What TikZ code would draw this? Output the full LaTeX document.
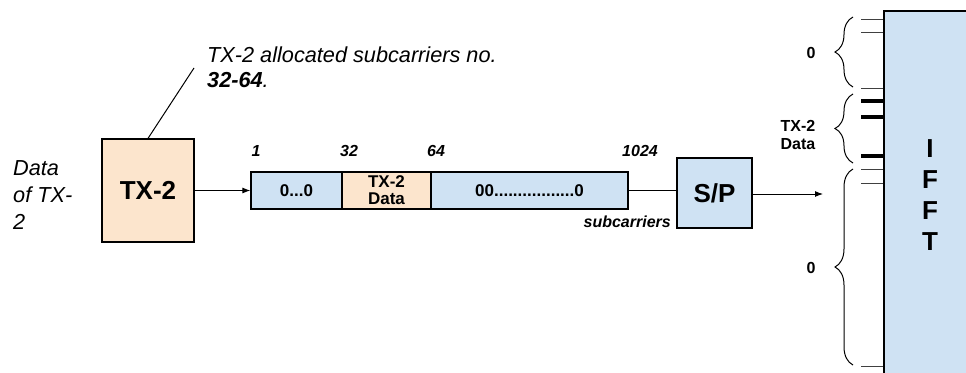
\documentclass[tikz,border=0pt]{standalone}
\usepackage{fontspec}
\setmainfont{Liberation Sans}
\usepackage{xcolor}
\usetikzlibrary{arrows.meta,decorations.pathreplacing}
\definecolor{peach}{HTML}{FCE5CD}
\definecolor{pale}{HTML}{CFE2F3}

\begin{document}
\begin{tikzpicture}[
  x=1pt, y=-1pt,
  >={Latex[length=8pt,width=6pt]},
  blk/.style={draw, line width=1.2pt, inner sep=0pt, align=center,
    font=\fontsize{26}{31}\selectfont\bfseries},
  cell/.style={draw, line width=1.2pt, fill=pale, minimum height=37, inner sep=0pt,
    align=center, font=\fontsize{17}{17}\selectfont\bfseries},
  idx/.style={inner sep=0pt, font=\fontsize{16}{16}\selectfont\bfseries\itshape},
  note/.style={inner sep=0pt, align=left, font=\fontsize{21.7}{25}\selectfont\itshape},
  lbl/.style={inner sep=0pt, align=center, font=\fontsize{16}{18}\selectfont\bfseries},
  arr/.style={->, line width=1pt},
  stub/.style={line width=1pt, black!75},
  fat/.style={line width=4pt},
  brc/.style={decorate, decoration={brace, amplitude=18pt}, line width=1pt},
]
  \useasboundingbox (0,0) rectangle (966,372);

  % ---------- transmitter ----------
  \node[note] (dat) at (13,160) [anchor=north west]
    {Data\\[2pt] of TX-\\[2pt] 2};
  \node[blk, fill=peach, minimum width=92, minimum height=103] (tx) at (148,190.5) {TX-2};
  \node[note, anchor=north west] (ann) at (207,47)
    {TX-2 allocated subcarriers no.\\ \textbf{32-64}.};
  \coordinate (annend) at (194,68);
  \draw[line width=1pt] (tx.north) -- (annend);

  % ---------- subcarrier strip ----------
  \node[cell, minimum width=91] (c1) at (296.5,190.5) {0...0};
  \node[cell, minimum width=89, fill=peach] (c2) at (386.5,190.5) {TX-2\\Data};
  \node[cell, minimum width=197] (c3) at (529.5,190.5) {00.................0};
  \node[idx] (n1) at (256,151) {1};
  \node[idx] (n32) at (349,151) {32};
  \node[idx] (n64) at (436,151) {64};
  \node[idx] (n1024) at (640,151) {1024};
  \node[idx, anchor=east] (sub) at (671,222) {subcarriers};
  \draw[arr] (tx.east) -- (c1.west);

  % ---------- S/P and IFFT ----------
  \node[blk, fill=pale, minimum width=75, minimum height=70] (sp) at (714.5,193) {S/P};
  \node[blk, fill=pale, minimum width=92, minimum height=369] (ifft) at (930,195.5)
    {I\\F\\F\\T};
  \coordinate (spout) at (823,194);
  \draw[line width=1pt] (c3.east) -- (c3.east -| sp.west);
  \draw[arr] (sp.east |- spout) -- (spout);

  % inputs of the IFFT
  \foreach \y in {19,32,88,169,183,366}
    \draw[stub] (861,\y) -- (ifft.west |- 0,\y);
  \foreach \y in {101,117,156}
    \draw[fat] (861,\y) -- (ifft.west |- 0,\y);

  % braces with their labels
  \draw[brc] (853,87) -- (853,17);
  \draw[brc] (853,163) -- (853,94);
  \draw[brc] (853,365) -- (853,169);
  \node[lbl] (z1) at (811,53) {0};
  \node[lbl] (z2) at (798,135) {TX-2\\Data};
  \node[lbl] (z3) at (811,268) {0};
\end{tikzpicture}
\end{document}
